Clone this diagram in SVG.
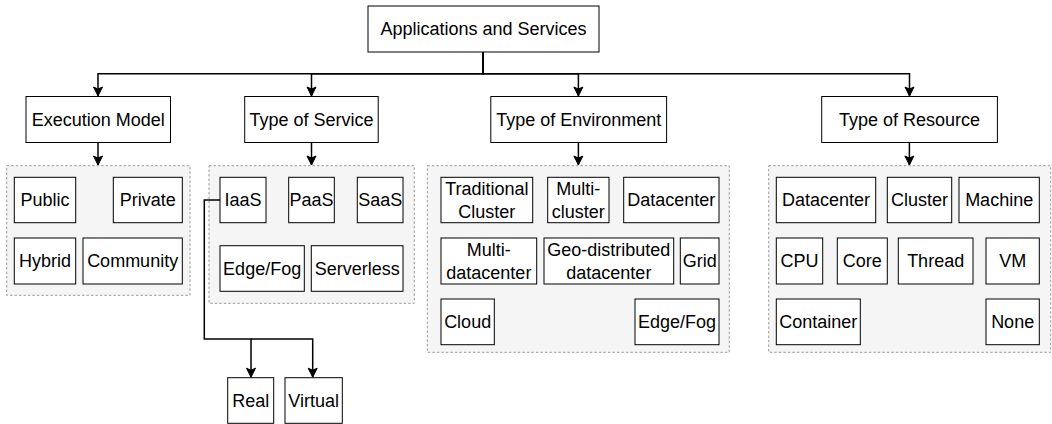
<svg xmlns="http://www.w3.org/2000/svg" width="1052" height="424" viewBox="0 0 1052 424">
<style>
.n rect{fill:#fff;stroke:#000;stroke-width:1}
.g{fill:#f5f5f5;stroke:#9a9a9a;stroke-width:1;stroke-dasharray:2.5 2}
text{font-family:"Liberation Sans",Arial,sans-serif;font-size:18px;fill:#000;text-anchor:middle;dominant-baseline:central}
.c path{fill:none;stroke:#000;stroke-width:1.5}
</style>
<defs>
<marker id="a" markerUnits="userSpaceOnUse" markerWidth="12" markerHeight="12" viewBox="0 0 12 12" refX="10" refY="6" orient="auto">
<path d="M1,1.5 L10,6 L1,10.5 L3,6 z" fill="#000" stroke="#000" stroke-width="1"/>
</marker>
</defs>
<rect width="1052" height="424" fill="#fff"/>
<g id="groups">
<rect class="g" x="6.7" y="165.7" width="183.3" height="129.6"/>
<rect class="g" x="209" y="165.7" width="205.3" height="137.6"/>
<rect class="g" x="427.3" y="165.7" width="302" height="186.6"/>
<rect class="g" x="768.7" y="165.7" width="282" height="186.6"/>
</g>
<g class="c" id="connectors">
<path d="M483,52 V73.7 H98 V96" marker-end="url(#a)"/>
<path d="M483,52 V73.7 H311.5 V96" marker-end="url(#a)"/>
<path d="M483,52 V73.7 H578.4 V96" marker-end="url(#a)"/>
<path d="M483,52 V73.7 H909.5 V96" marker-end="url(#a)"/>
<path d="M98,142.5 V165" marker-end="url(#a)"/>
<path d="M311.5,142.5 V165" marker-end="url(#a)"/>
<path d="M578.4,142.5 V165" marker-end="url(#a)"/>
<path d="M909.4,142.5 V165" marker-end="url(#a)"/>
<path d="M220,200 H204.3 V339 H251 V377.2" marker-end="url(#a)"/>
<path d="M251,339 H312.7 V377.2" marker-end="url(#a)"/>
</g>
<g class="n" id="root"><rect x="368" y="6" width="231" height="46"/><text x="483.5" y="29">Applications and Services</text></g>
<g class="n" id="execution-model"><rect x="26" y="96.5" width="144.5" height="46"/><text x="98.25" y="119.5">Execution Model</text></g>
<g class="n" id="type-of-service"><rect x="244.7" y="96.5" width="133.5" height="46"/><text x="311.5" y="119.5">Type of Service</text></g>
<g class="n" id="type-of-environment"><rect x="490.8" y="96.5" width="175.8" height="46"/><text x="578.7" y="119.5">Type of Environment</text></g>
<g class="n" id="type-of-resource"><rect x="821.7" y="96.5" width="175.7" height="46"/><text x="909.5" y="119.5">Type of Resource</text></g>

<g class="n" id="public"><rect x="14.3" y="177.3" width="61.4" height="45.4"/><text x="45" y="200">Public</text></g>
<g class="n" id="private"><rect x="113.3" y="177.3" width="69" height="45.4"/><text x="147.8" y="200">Private</text></g>
<g class="n" id="hybrid"><rect x="14.3" y="238" width="61.4" height="46"/><text x="45" y="261">Hybrid</text></g>
<g class="n" id="community"><rect x="83" y="238" width="99.3" height="46"/><text x="132.65" y="261">Community</text></g>

<g class="n" id="iaas"><rect x="220" y="177.3" width="46" height="45.4"/><text x="243" y="200">IaaS</text></g>
<g class="n" id="paas"><rect x="288.7" y="177.3" width="45.6" height="45.4"/><text x="311.5" y="200">PaaS</text></g>
<g class="n" id="saas"><rect x="357.3" y="177.3" width="45.7" height="45.4"/><text x="380.15" y="200">SaaS</text></g>
<g class="n" id="edge-fog-service"><rect x="220" y="245.7" width="84.3" height="45.6"/><text x="262.15" y="268.5">Edge/Fog</text></g>
<g class="n" id="serverless"><rect x="311.3" y="245.7" width="91.7" height="45.6"/><text x="357.15" y="268.5">Serverless</text></g>

<g class="n" id="real"><rect x="227.7" y="377.7" width="46" height="45.6"/><text x="250.7" y="400.5">Real</text></g>
<g class="n" id="virtual"><rect x="285" y="377.7" width="57.3" height="45.6"/><text x="313.65" y="400.5">Virtual</text></g>

<g class="n" id="traditional-cluster"><rect x="441" y="177.3" width="91.7" height="45.4"/><text x="486.85" y="200"><tspan x="486.85" dy="-11.5">Traditional</tspan><tspan x="486.85" dy="23.5">Cluster</tspan></text></g>
<g class="n" id="multi-cluster"><rect x="547.7" y="177.3" width="61.3" height="45.4"/><text x="578.35" y="200"><tspan x="578.35" dy="-11.5">Multi-</tspan><tspan x="578.35" dy="23.5">cluster</tspan></text></g>
<g class="n" id="datacenter-env"><rect x="623.7" y="177.3" width="95.3" height="45.4"/><text x="671.35" y="200">Datacenter</text></g>
<g class="n" id="multi-datacenter"><rect x="441" y="238" width="95.7" height="46"/><text x="488.85" y="261"><tspan x="488.85" dy="-11.5">Multi-</tspan><tspan x="488.85" dy="23.5">datacenter</tspan></text></g>
<g class="n" id="geo-distributed"><rect x="544" y="238" width="129.7" height="46"/><text x="608.85" y="261"><tspan x="608.85" dy="-11.5">Geo-distributed</tspan><tspan x="608.85" dy="23.5">datacenter</tspan></text></g>
<g class="n" id="grid"><rect x="680.3" y="238" width="38.7" height="46"/><text x="699.65" y="261">Grid</text></g>
<g class="n" id="cloud"><rect x="441" y="299" width="53.3" height="45.7"/><text x="467.65" y="322">Cloud</text></g>
<g class="n" id="edge-fog-env"><rect x="635" y="299" width="84" height="45.7"/><text x="677" y="322">Edge/Fog</text></g>

<g class="n" id="datacenter-res"><rect x="776.3" y="177.3" width="99.4" height="45.4"/><text x="826" y="200">Datacenter</text></g>
<g class="n" id="cluster"><rect x="887.3" y="177.3" width="64.4" height="45.4"/><text x="919.5" y="200">Cluster</text></g>
<g class="n" id="machine"><rect x="959" y="177.3" width="80.3" height="45.4"/><text x="999.15" y="200">Machine</text></g>
<g class="n" id="cpu"><rect x="776.3" y="238" width="46.4" height="46"/><text x="799.5" y="261">CPU</text></g>
<g class="n" id="core"><rect x="837.3" y="238" width="50" height="46"/><text x="862.3" y="261">Core</text></g>
<g class="n" id="thread"><rect x="898.3" y="238" width="74.7" height="46"/><text x="935.65" y="261">Thread</text></g>
<g class="n" id="vm"><rect x="986" y="238" width="53.3" height="46"/><text x="1012.65" y="261">VM</text></g>
<g class="n" id="container"><rect x="776.3" y="299" width="84" height="45.7"/><text x="818.3" y="322">Container</text></g>
<g class="n" id="none"><rect x="986" y="299" width="53.3" height="45.7"/><text x="1012.65" y="322">None</text></g>
</svg>
